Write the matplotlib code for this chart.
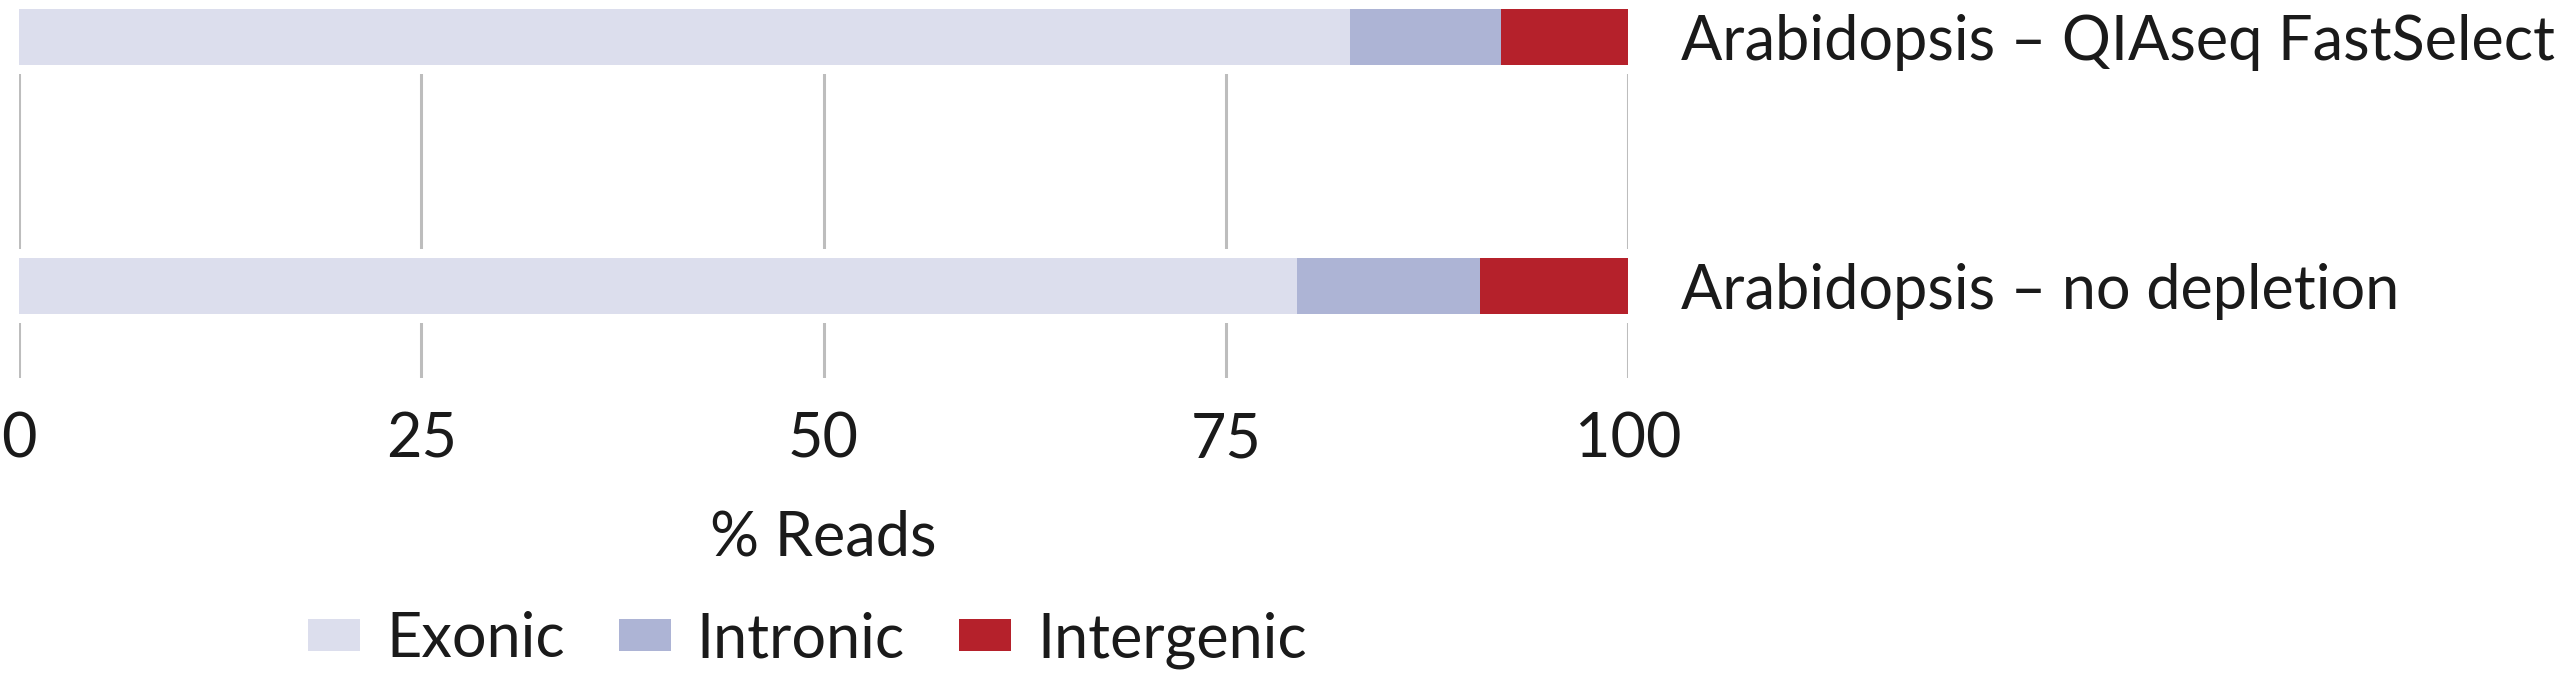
import numpy as np
import matplotlib
matplotlib.use("Agg")
import matplotlib.pyplot as plt

samples = ["Arabidopsis – no depletion", "Arabidopsis – QIAseq FastSelect"]
categories = ["Exonic", "Intronic", "Intergenic"]
exonic = [79.4, 82.7]
intronic = [11.4, 9.4]
intergenic = [9.2, 7.9]
colors = ["#dcdeed", "#adb4d5", "#b5212b"]
ticks = [0, 25, 50, 75, 100]

plt.rcParams["font.family"] = ["Lato", "DejaVu Sans"]
FS = 44

fig = plt.figure(figsize=(25.6, 6.81), dpi=100)
ax = fig.add_axes([19 / 2560, 1 - 378 / 681, (1628 - 19) / 2560, (378 - 9) / 681])

y = np.arange(len(samples))
bar_h = 56 / 249

# white band behind bars so grid lines stop short of them
totals = np.array(exonic) + np.array(intronic) + np.array(intergenic)
ax.barh(y, totals + 2, left=-1, height=bar_h + 18 / 249, color="white", zorder=2)

left = np.zeros(len(samples))
for name, vals, c in zip(categories, [exonic, intronic, intergenic], colors):
    ax.barh(y, vals, left=left, height=bar_h, color=c, label=name, zorder=3)
    left += np.array(vals)

ax.set_xlim(0, 100)
ax.set_ylim(-92 / 249, 1 + bar_h / 2)
ax.set_xticks(ticks)
ax.set_xticklabels([str(t) for t in ticks], fontsize=FS, color="#1a1a1a")
ax.xaxis.grid(True, color="#bdbdbd", linewidth=2.2, zorder=1)
ax.tick_params(axis="x", length=0, pad=24)

ax.yaxis.tick_right()
ax.set_yticks(y)
ax.set_yticklabels(samples, fontsize=FS, color="#1a1a1a")
ax.tick_params(axis="y", length=0, pad=38)

for s in ax.spines.values():
    s.set_visible(False)
ax.set_axisbelow(True)

ax.set_xlabel("% Reads", fontsize=FS, color="#1a1a1a", labelpad=30)

fpx = FS * 100 / 72
ax.legend(loc="center", bbox_to_anchor=(0.49, -0.71), ncol=3, frameon=False,
          fontsize=FS, handlelength=52 / fpx, handleheight=26 / fpx,
          handletextpad=26 / fpx, columnspacing=54 / fpx, labelcolor="#1a1a1a")

fig.savefig("out.png", dpi=100)
